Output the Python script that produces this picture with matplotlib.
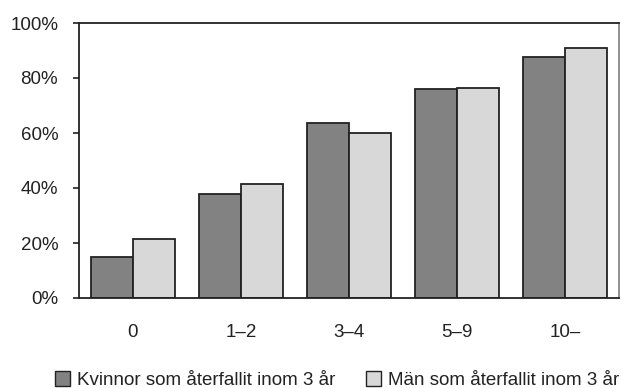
import matplotlib
matplotlib.use("Agg")
import matplotlib.pyplot as plt
from matplotlib.patches import Patch
import numpy as np

categories = ["0", "1–2", "3–4", "5–9", "10–"]
kvinnor = [15, 38, 63.5, 76, 87.5]
man = [21.5, 41.5, 60, 76.5, 91]
series_labels = ["Kvinnor som återfallit inom 3 år", "Män som återfallit inom 3 år"]
yticks = [0, 20, 40, 60, 80, 100]

plt.rcParams['font.family'] = ['Liberation Sans', 'DejaVu Sans']

fig = plt.figure(figsize=(6.22, 3.88), dpi=100)
ax = fig.add_axes([79/622, 1-298/388, 540/622, 275/388])

x = np.arange(len(categories))
w = 0.39
dark = "#828282"
light = "#d8d8d8"
edge = "#222222"
ax.bar(x - w/2, kvinnor, w, color=dark, edgecolor=edge, linewidth=1.3, zorder=2)
ax.bar(x + w/2, man, w, color=light, edgecolor=edge, linewidth=1.3, zorder=2)

ax.set_xlim(-0.5, len(categories) - 0.5)
ax.set_ylim(0, 100)
ax.set_yticks(yticks)
ax.set_yticklabels([f"{v}%" for v in yticks])
ax.set_xticks(x)
ax.set_xticklabels(categories)
ax.tick_params(axis='y', length=4, width=1.2, pad=11, labelsize=13.5, colors="#222222")
ax.tick_params(axis='x', length=0, pad=19, labelsize=13.5, colors="#222222")
for s in ['left', 'top', 'bottom']:
    ax.spines[s].set_color("#222222")
    ax.spines[s].set_linewidth(1.3)
ax.spines['right'].set_color("#888888")
ax.spines['right'].set_linewidth(1.3)

handles = [Patch(facecolor=dark, edgecolor=edge, linewidth=1.0),
           Patch(facecolor=light, edgecolor=edge, linewidth=1.0)]
fig.legend(handles, series_labels, loc='center', bbox_to_anchor=(337.4/622, 1-380/388),
           ncol=2, frameon=False, fontsize=13.5, handlelength=0.8, handleheight=0.8,
           handletextpad=0.37, columnspacing=1.65, labelcolor="#222222")

fig.savefig("out.png", dpi=100)
